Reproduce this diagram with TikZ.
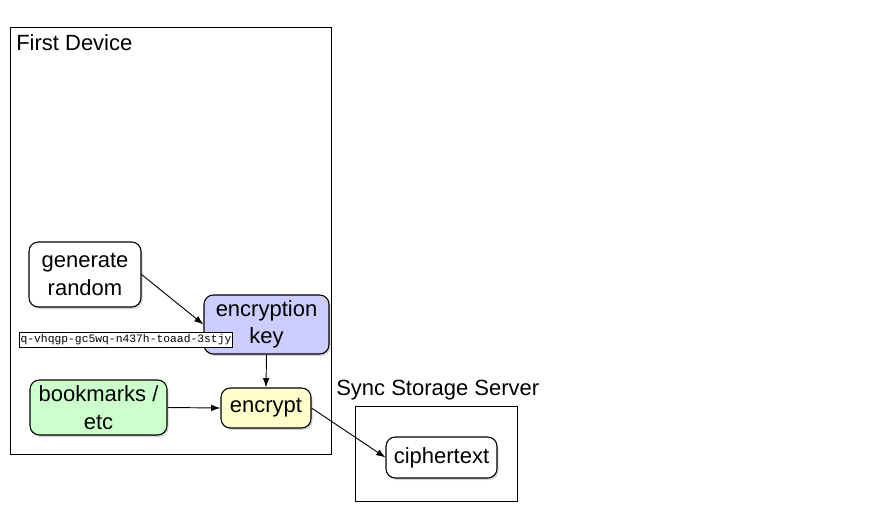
\documentclass[tikz,border=0pt]{standalone}
\usepackage{fontspec}
\setmainfont{Liberation Sans}
\setmonofont{Liberation Mono}
\usetikzlibrary{shadows,arrows.meta}
\definecolor{keyblue}{HTML}{CCCCFF}
\definecolor{bmgreen}{HTML}{CCFFCC}
\definecolor{encyellow}{HTML}{FFFFCC}
\tikzset{
  px/.style={x=0.75pt,y=-0.75pt},
  proc/.style={draw,rounded corners=7pt,fill=white,line width=0.8pt,align=center,
    font=\fontsize{16.5}{20.5}\selectfont,inner sep=0pt,
    drop shadow={shadow xshift=1.2pt,shadow yshift=-1.5pt,opacity=0.35}},
  group/.style={draw,line width=0.6pt},
  conn/.style={-{Latex[length=7pt,width=5pt]},line width=0.7pt},
  grouptitle/.style={font=\fontsize{16.5}{20}\selectfont,anchor=west,inner sep=0pt}
}
\begin{document}
\begin{tikzpicture}[px]
\useasboundingbox (0,0) rectangle (875,525);
% groups
\node[group,minimum width=321*0.75pt,minimum height=427*0.75pt,anchor=north west,inner sep=0pt] (dev) at (10,27) {};
\node[grouptitle] (devt) at (16,43) {First Device};
\node[group,minimum width=162*0.75pt,minimum height=95*0.75pt,anchor=north west,inner sep=0pt] (srv) at (355,406) {};
\node[grouptitle] (srvt) at (336,390) {Sync Storage Server};
% nodes
\node[proc,minimum width=112*0.75pt,minimum height=65*0.75pt] (gen) at (85,274.5) {generate\\random};
\node[proc,fill=keyblue,minimum width=125*0.75pt,minimum height=59*0.75pt] (key) at (266.5,324.5) {encryption\\key};
\node[proc,fill=bmgreen,minimum width=137*0.75pt,minimum height=55*0.75pt] (bm) at (98.5,407.5) {bookmarks /\\etc};
\node[proc,fill=encyellow,minimum width=90*0.75pt,minimum height=40*0.75pt] (enc) at (266,408) {encrypt};
\node[proc,minimum width=111*0.75pt,minimum height=41*0.75pt] (ct) at (441.5,457.5) {ciphertext};
\node[draw,fill=white,line width=0.5pt,inner xsep=0.8pt,inner ysep=1.5pt,font=\ttfamily\fontsize{8.5}{9}\selectfont] (lbl) at (126,340) {q-vhqgp-gc5wq-n437h-toaad-3stjy};
% connectors
\draw[conn] (gen.east) -- (key.west);
\draw[conn] (key.south) -- (enc.north);
\draw[conn] (bm.east) -- (enc.west);
\draw[conn] (enc.east) -- (ct.west);
\end{tikzpicture}
\end{document}
